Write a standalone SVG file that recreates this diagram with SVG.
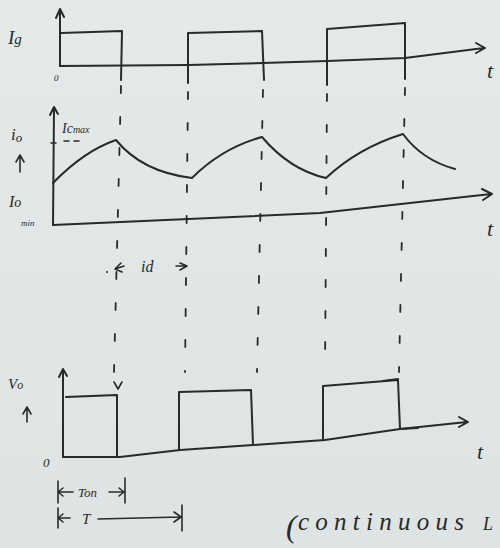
<svg xmlns="http://www.w3.org/2000/svg" width="500" height="548" viewBox="0 0 500 548">
<defs>
<linearGradient id="paper" x1="0" y1="0" x2="0" y2="1">
<stop offset="0" stop-color="#e4eae9"/>
<stop offset="1" stop-color="#dde4e3"/>
</linearGradient>
</defs>
<style>
.pen{fill:none;stroke:#2a2a2a;stroke-width:2;stroke-linecap:round;stroke-linejoin:round}
.thin{fill:none;stroke:#2a2a2a;stroke-width:1.6;stroke-linecap:round;stroke-linejoin:round}
.dash{fill:none;stroke:#2a2a2a;stroke-width:1.8;stroke-dasharray:7 24;stroke-linecap:round}
.lbl{font-family:"Liberation Serif",serif;font-style:italic;fill:#2a2a2a}
</style>
<rect width="500" height="548" fill="url(#paper)"/>

<g id="panel-ig">
<path class="pen" d="M60,66 L60,10 M56,18 L60,9 L64,17"/>
<path class="pen" d="M60,66 L188,65 L263,63 L327,61 L405,58 L484,48 M476,43 L485,48 L476,53"/>
<path class="pen" d="M61,33 L122,31 L121,80"/>
<path class="pen" d="M188,83 L188,33 L262,31 L264,80"/>
<path class="pen" d="M327,85 L327,29 L405,23 L405,79"/>
<text class="lbl" x="8" y="44" font-size="19">I<tspan font-size="15">g</tspan></text>
<text class="lbl" x="54" y="81" font-size="9">0</text>
<text class="lbl" x="487" y="78" font-size="22">t</text>
</g>

<g id="panel-io">
<path class="pen" d="M53,225 L54,108 M50,115 L54,107 L58,114"/>
<path class="pen" d="M53,225 L320,213 L491,194 M482,189 L492,194 L483,200"/>
<path class="pen" d="M53,183 Q84,151 116,140 Q142,172 192,178 Q222,148 262,137 Q290,170 326,178 Q358,148 403,134 Q422,160 455,169"/>
<path class="thin" d="M51,143 L56,143 M64,141 L69,141 M74,141 L79,141"/>
<text class="lbl" x="62" y="133" font-size="14">Ic<tspan font-size="10">max</tspan></text>
<text class="lbl" x="11" y="140" font-size="17">i<tspan font-size="13" dy="2">o</tspan></text>
<path class="thin" d="M20,172 L20,156 M16,162 L20,155 L24,162"/>
<text class="lbl" x="9" y="207" font-size="16">I<tspan font-size="14">o</tspan></text>
<text class="lbl" x="21" y="226" font-size="9">min</text>
<text class="lbl" x="487" y="236" font-size="22">t</text>
</g>

<g id="panel-vo">
<path class="pen" d="M63,457 L63,370 M59,377 L63,369 L67,376"/>
<path class="pen" d="M63,457 L120,457 L180,450 L253,445 L325,440 L400,429 L467,422 M459,417 L468,422 L459,427"/>
<path class="pen" d="M66,397 L117,395 L117,457"/>
<path class="pen" d="M179,450 L179,392 L251,390 L253,445"/>
<path class="pen" d="M323,440 L323,386 L398,380 L400,429 L418,428"/>
<path class="pen" d="M398,379 L383,381" stroke-width="3"/>
<path class="thin" d="M114,382 L118,389 L122,382"/>
<text class="lbl" x="8" y="389" font-size="15">V<tspan font-size="12">o</tspan></text>
<path class="thin" d="M27,422 L27,408 M23,414 L27,407 L31,414"/>
<text class="lbl" x="43" y="467" font-size="13">0</text>
<text class="lbl" x="477" y="459" font-size="22">t</text>
</g>

<g id="dimensions">
<path class="thin" d="M58,481 L58,503 M58,492 L73,492 M63,488 L58,492 L63,496"/>
<text class="lbl" x="78" y="497" font-size="13">Ton</text>
<path class="thin" d="M109,492 L124,492 M119,488 L124,492 L119,496 M125,478 L125,503"/>
<path class="thin" d="M58,508 L58,528 M58,518 L70,518 M63,514 L58,518 L63,522"/>
<text class="lbl" x="82" y="524" font-size="15">T</text>
<path class="thin" d="M98,519 L180,517 M174,512 L181,517 L174,522 M182,505 L182,531"/>
<path class="thin" d="M124,266 L115,269 M121,263 L115,269 L122,272 M180,263 L187,266 L180,270 M176,266 L187,266"/>
<text class="lbl" x="141" y="272" font-size="16">i<tspan font-size="16">d</tspan></text>
<circle cx="107" cy="272" r="1" fill="#2a2a2a"/>
<text class="lbl" x="286" y="537" font-size="32">(</text>
<text class="lbl" x="298" y="530" font-size="25" textLength="166" lengthAdjust="spacing">continuous</text>
<text class="lbl" x="483" y="530" font-size="18">L</text>
</g>

<g id="connectors">
<line class="dash" x1="121" y1="86" x2="114" y2="372"/>
<line class="dash" x1="188" y1="92" x2="185" y2="372"/>
<line class="dash" x1="263" y1="90" x2="257" y2="372"/>
<line class="dash" x1="327" y1="94" x2="325" y2="372"/>
<line class="dash" x1="405" y1="88" x2="399" y2="372"/>
</g>
</svg>
